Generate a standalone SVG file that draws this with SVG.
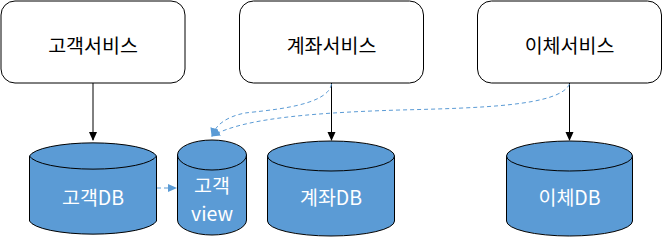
<svg xmlns="http://www.w3.org/2000/svg" width="662" height="240" viewBox="0 0 662 240">
<style>
.box{fill:#fff;stroke:#000;stroke-width:1}
.cyl{fill:#5b9bd5;stroke:#000;stroke-width:1}
.t{font-family:"Noto Sans CJK KR","Noto Sans",sans-serif;font-size:19.5px;text-anchor:middle;dominant-baseline:central}
.w{fill:#fff}
.solid{stroke:#000;stroke-width:1;fill:none}
.dash{stroke:#5b9bd5;stroke-width:1;fill:none;stroke-dasharray:4 3}
</style>
<defs>
<marker id="ab" markerWidth="10" markerHeight="10" refX="8" refY="5" orient="auto" markerUnits="userSpaceOnUse">
<path d="M0,1 L9,5 L0,9 Z" fill="#000"/>
</marker>
<marker id="ablue" markerWidth="10" markerHeight="10" refX="8" refY="5" orient="auto" markerUnits="userSpaceOnUse">
<path d="M0,1 L9,5 L0,9 Z" fill="#5b9bd5"/>
</marker>
</defs>
<g id="svc1"><rect class="box" x="1" y="1" width="184" height="82" rx="14"/><text class="t" x="93" y="44">고객서비스</text></g>
<g id="svc2"><rect class="box" x="239.5" y="1" width="184" height="82" rx="14"/><text class="t" x="331.5" y="44">계좌서비스</text></g>
<g id="svc3"><rect class="box" x="477.5" y="1" width="184" height="82" rx="14"/><text class="t" x="569.5" y="44">이체서비스</text></g>
<g id="db1"><path class="cyl" d="M29.5,156 A64,15 0 0 1 156.5,156 V221 A64,15 0 0 1 29.5,221 Z"/><path class="cyl" d="M29.5,156 A64,15 0 0 0 156.5,156"/><text class="t w" x="93" y="196">고객DB</text></g>
<g id="view"><path class="cyl" d="M177.5,155 A34.5,15 0 0 1 246.5,155 V220 A34.5,15 0 0 1 177.5,220 Z"/><path class="cyl" d="M177.5,155 A34.5,15 0 0 0 246.5,155"/><text class="t w" x="212" y="184">고객</text><text class="t w" x="212" y="212">view</text></g>
<g id="db2"><path class="cyl" d="M267.5,156 A63.5,15 0 0 1 394.5,156 V221 A63.5,15 0 0 1 267.5,221 Z"/><path class="cyl" d="M267.5,156 A63.5,15 0 0 0 394.5,156"/><text class="t w" x="331" y="196">계좌DB</text></g>
<g id="db3"><path class="cyl" d="M506.5,156 A63,15 0 0 1 632.5,156 V221 A63,15 0 0 1 506.5,221 Z"/><path class="cyl" d="M506.5,156 A63,15 0 0 0 632.5,156"/><text class="t w" x="569.5" y="196">이체DB</text></g>
<g id="connectors">
<path class="solid" d="M93,83 V140" marker-end="url(#ab)"/>
<path class="solid" d="M331.5,83 V140" marker-end="url(#ab)"/>
<path class="solid" d="M569.5,83 V140" marker-end="url(#ab)"/>
<path class="dash" d="M157,188 H176" marker-end="url(#ablue)"/>
<path class="dash" d="M331.5,84 C328,106 270,110 245,113 C225,117 215,126 212,136" marker-end="url(#ablue)"/>
<path class="dash" d="M569.5,84 C560,106 480,108 400,110 C300,113 240,120 212,136" marker-end="url(#ablue)"/>
</g>
</svg>
